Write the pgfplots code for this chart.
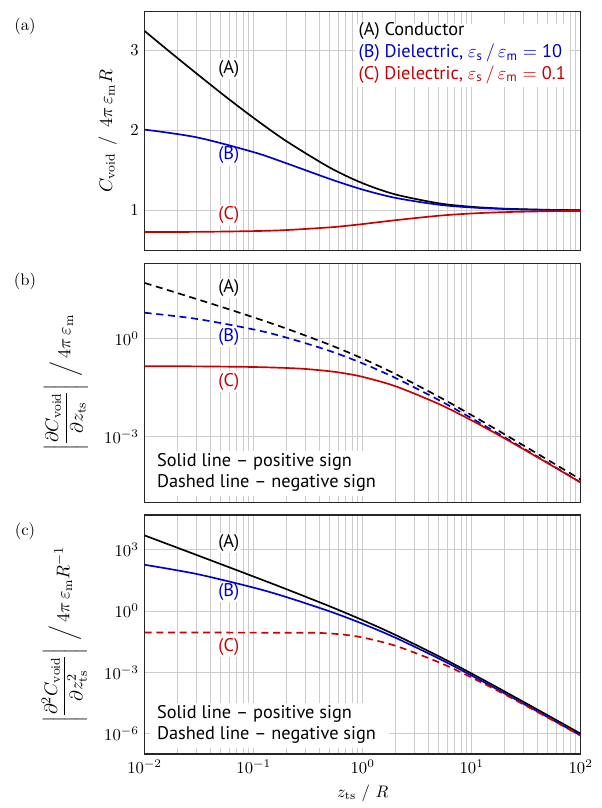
\documentclass[border=0pt]{standalone}
\usepackage{amsmath}
\usepackage{fontspec}
\setsansfont{PT Sans}
\usepackage{pgfplots}
\pgfplotsset{compat=1.18}
\definecolor{cblue}{RGB}{0,0,200}
\definecolor{cred}{RGB}{200,0,0}
\newcommand\legfont{\sffamily\fontsize{11}{13}\selectfont}

\pgfplotsset{
  every axis/.append style={
    scale only axis, width=261.6pt, height=143.4pt,
    xmajorgrids, xminorgrids, ymajorgrids,
    major grid style={draw=gray!40, line width=0.6pt},
    minor grid style={draw=gray!40, line width=0.6pt},
    tick style={draw=none},
    axis line style={line width=0.8pt, draw=black!85},
    clip mode=individual,
  },
  every axis plot/.append style={line width=1pt, smooth},
}

\begin{document}
\begin{tikzpicture}

% (a) capacitance
\begin{axis}[at={(0,0)}, anchor=north west,
    xmode=log, xmin=1e-2, xmax=1e2,
    ymin=0.5, ymax=3.48, ytick={1,2,3}, xticklabels={},
    ylabel={$C_{\mathrm{void}}\;\,/\;\,4\pi\,\varepsilon_{\mathrm{m}}R$},
    ylabel style={at={(axis description cs:-0.051,0.5)}, anchor=south, font=\fontsize{11}{13}\selectfont}]
  \node[font=\normalsize] at (rel axis cs:-0.2745,0.937) {(a)};
  \node[font=\legfont, fill=white, inner sep=1pt] at (rel axis cs:0.193,0.762) {(A)};
  \node[font=\legfont, fill=white, inner sep=1pt, text=cblue] at (rel axis cs:0.193,0.399) {(B)};
  \node[font=\legfont, fill=white, inner sep=1pt, text=cred] at (rel axis cs:0.193,0.150) {(C)};
  \fill[white] (rel axis cs:0.483,0.950) rectangle (rel axis cs:0.975,0.685);
  \node[anchor=base west, inner sep=0pt, font=\legfont] at (rel axis cs:0.490,0.899) {(A) Conductor};
  \node[anchor=base west, inner sep=0pt, font=\legfont, text=cblue] at (rel axis cs:0.490,0.807)
    {(B) Dielectric, $\varepsilon_{\text{s}}\,/\,\varepsilon_{\text{m}} = \text{10}$};
  \node[anchor=base west, inner sep=0pt, font=\legfont, text=cred] at (rel axis cs:0.490,0.718)
    {(C) Dielectric, $\varepsilon_{\text{s}}\,/\,\varepsilon_{\text{m}} = \text{0.1}$};
  \addplot[black] coordinates {(0.01,3.2383) (0.02,2.9012) (0.05,2.4675) (0.1,2.1551) (0.2,1.8652)
    (0.5,1.5354) (1,1.3411) (2,1.2012) (5,1.0910) (10,1.0476) (20,1.0244) (50,1.0099) (100,1.0050)};
  \addplot[cblue] coordinates {(0.01,2.0099) (0.03,1.9136) (0.1,1.7287) (0.2,1.5895) (0.5,1.3943)
    (1,1.2617) (2,1.1586) (5,1.0732) (10,1.0386) (20,1.0199) (50,1.0081) (100,1.0041)};
  \addplot[cred] coordinates {(0.01,0.7321) (0.03,0.7349) (0.1,0.7445) (0.2,0.7575) (0.5,0.7911)
    (0.7,0.8094) (1,0.8321) (2,0.8804) (5,0.9362) (10,0.9641) (20,0.9809) (50,0.9920) (100,0.9960)};
\end{axis}

% (b) first derivative
\begin{axis}[at={(0,-150.96pt)}, anchor=north west,
    xmode=log, xmin=1e-2, xmax=1e2,
    ymode=log, ymin=1e-5, ymax=195, ytick={1e-3,1}, xticklabels={},
    ylabel={$\left|\dfrac{\partial C_{\mathrm{void}}}{\partial z_{\mathrm{ts}}}\right|\;\Big/\,4\pi\,\varepsilon_{\mathrm{m}}$},
    ylabel style={at={(axis description cs:-0.117,0.5)}, anchor=south, font=\fontsize{11}{13}\selectfont}]
  \node[font=\normalsize] at (rel axis cs:-0.2745,0.926) {(b)};
  \node[font=\legfont, fill=white, inner sep=1pt] at (rel axis cs:0.193,0.896) {(A)};
  \node[font=\legfont, fill=white, inner sep=1pt, text=cblue] at (rel axis cs:0.193,0.693) {(B)};
  \node[font=\legfont, fill=white, inner sep=1pt, text=cred] at (rel axis cs:0.193,0.505) {(C)};
  \fill[white] (rel axis cs:0.013,0.025) rectangle (rel axis cs:0.56,0.215);
  \node[anchor=base west, inner sep=0pt, font=\legfont] at (rel axis cs:0.0275,0.148) {Solid line – positive sign};
  \node[anchor=base west, inner sep=0pt, font=\legfont] at (rel axis cs:0.0275,0.060) {Dashed line – negative sign};
  \addplot[black, dash pattern=on 4.2pt off 2.8pt] coordinates {(0.01,48.98) (0.02,24.10) (0.05,9.251)
    (0.1,4.368) (0.2,1.985) (0.5,0.6357) (1,0.2416) (2,0.08173) (5,0.01657) (10,0.004537)
    (20,0.001190) (50,0.0001961) (100,0.0000495)};
  \addplot[cblue, dash pattern=on 4.2pt off 2.8pt] coordinates {(0.01,6.063) (0.03,3.929) (0.1,1.870)
    (0.2,1.057) (0.5,0.4130) (1,0.1725) (2,0.06200) (5,0.01311) (10,0.003648) (20,0.0009649)
    (50,0.0001598) (100,0.00004043)};
  \addplot[cred] coordinates {(0.01,0.1418) (0.03,0.1401) (0.1,0.1339) (0.2,0.1251) (0.3,0.1166)
    (0.5,0.09941) (0.7,0.08464) (1,0.06701) (2,0.03468) (5,0.009941) (10,0.003142) (20,0.0008925)
    (50,0.0001548) (100,0.00003978)};
\end{axis}

% (c) second derivative
\begin{axis}[at={(0,-301.98pt)}, anchor=north west,
    xmode=log, xmin=1e-2, xmax=1e2,
    ymode=log, ymin=1e-7, ymax=5e4, ytick={1e-6,1e-3,1,1e3},
    xlabel={$z_{\mathrm{ts}}\ /\ R$},
    ylabel={$\left|\dfrac{\partial^2 C_{\mathrm{void}}}{\partial z_{\mathrm{ts}}^2}\right|\;\Big/\,4\pi\,\varepsilon_{\mathrm{m}}R^{-1}$},
    ylabel style={at={(axis description cs:-0.119,0.5)}, anchor=south, font=\fontsize{11}{13}\selectfont}]
  \node[font=\normalsize] at (rel axis cs:-0.2745,0.930) {(c)};
  \node[font=\legfont, fill=white, inner sep=1pt] at (rel axis cs:0.193,0.882) {(A)};
  \node[font=\legfont, fill=white, inner sep=1pt, text=cblue] at (rel axis cs:0.193,0.679) {(B)};
  \node[font=\legfont, fill=white, inner sep=1pt, text=cred] at (rel axis cs:0.193,0.449) {(C)};
  \fill[white] (rel axis cs:0.013,0.025) rectangle (rel axis cs:0.56,0.215);
  \node[anchor=base west, inner sep=0pt, font=\legfont] at (rel axis cs:0.0275,0.149) {Solid line – positive sign};
  \node[anchor=base west, inner sep=0pt, font=\legfont] at (rel axis cs:0.0275,0.060) {Dashed line – negative sign};
  \addplot[black] coordinates {(0.01,4983) (0.02,1242) (0.05,196.6) (0.1,48.31) (0.2,11.66)
    (0.5,1.681) (1,0.3563) (2,0.06726) (5,0.006046) (10,0.0008646) (20,0.0001161) (50,0.000007765)
    (100,0.000000985)};
  \addplot[cblue] coordinates {(0.01,183.0) (0.03,64.87) (0.1,13.90) (0.2,4.785) (0.5,0.9531)
    (1,0.2360) (2,0.04899) (5,0.004704) (10,0.0006893) (20,0.00009373) (50,0.000006319)
    (100,0.0000008038)};
  \addplot[cred, dash pattern=on 4.2pt off 2.8pt] coordinates {(0.01,0.08875) (0.03,0.08843)
    (0.1,0.08724) (0.2,0.0855) (0.35,0.0860) (0.5,0.07975) (0.7,0.06765) (1,0.05047) (2,0.01984)
    (5,0.003093) (10,0.0005505) (20,0.00008337) (50,0.000006022) (100,0.0000007845)};
\end{axis}

\pgfresetboundingbox
\path[use as bounding box] (-86.82pt,7.02pt) rectangle (274.38pt,-477.78pt);
\end{tikzpicture}
\end{document}
